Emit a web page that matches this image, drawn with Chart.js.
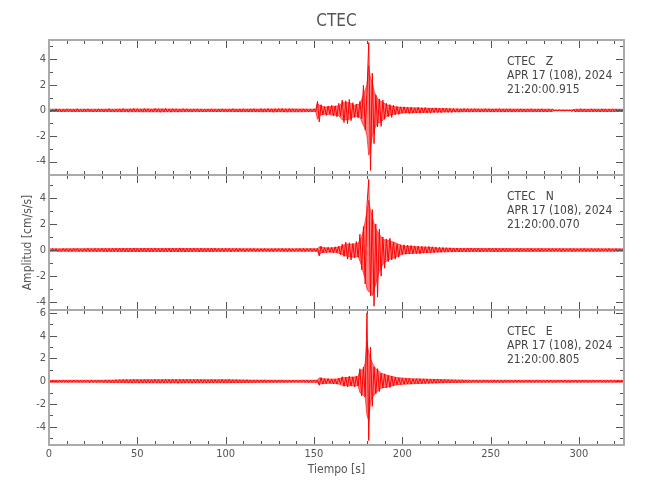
<!DOCTYPE html>
<html><head><meta charset="utf-8">
<script src="https://cdn.jsdelivr.net/npm/chart.js@4.4.1/dist/chart.umd.min.js"></script>
<style>
html,body{margin:0;padding:0;background:#fff;}
#wrap{position:relative;width:650px;height:500px;overflow:hidden;background:#fff;}
#wrap canvas{position:absolute;left:0;}
</style></head><body>
<div id="wrap">
<canvas id="cZ" width="650" height="185" style="top:0px"></canvas>
<canvas id="cN" width="650" height="155" style="top:165px"></canvas>
<canvas id="cE" width="650" height="200" style="top:300px"></canvas>
</div>
<script>
// ---------- data ----------
const station = 'CTEC';
const channels = ['Z', 'N', 'E'];
const dateLabel = 'APR 17 (108), 2024';
const startTimes = ['21:20:00.915', '21:20:00.070', '21:20:00.805'];
const sampleInterval = 1; // seconds between the samples below
const timeRange = [0, 325.5];
const xMajorStep = 50, xMinorStep = 10, yMajorStep = 2, yMinorStep = 1;
const yRangeZ = [-5.05, 5.5];
const yRangeN = [-4.59, 5.74];
const yRangeE = [-5.59, 6.25];

// trace peaks, one per second
const ampZ = [
0.10,-0.12,0.08,-0.10,0.12,-0.09,0.11,-0.13,0.09,-0.10,
0.12,-0.08,0.10,-0.11,0.09,-0.12,0.13,-0.10,0.08,-0.11,
0.11,-0.09,0.12,-0.10,0.10,-0.13,0.09,-0.11,0.12,-0.08,
0.10,-0.12,0.11,-0.09,0.13,-0.11,0.08,-0.12,0.10,-0.10,
0.12,-0.13,0.14,-0.10,0.11,-0.14,0.12,-0.11,0.15,-0.12,
0.13,-0.12,0.11,-0.14,0.14,-0.11,0.12,-0.13,0.10,-0.12,
0.14,-0.12,0.13,-0.15,0.12,-0.13,0.15,-0.12,0.11,-0.14,
0.13,-0.11,0.12,-0.14,0.10,-0.12,0.13,-0.10,0.12,-0.11,
0.10,-0.12,0.11,-0.09,0.12,-0.11,0.10,-0.12,0.09,-0.10,
0.11,-0.10,0.12,-0.11,0.09,-0.12,0.11,-0.10,0.12,-0.09,
0.10,-0.12,0.11,-0.10,0.13,-0.11,0.10,-0.12,0.11,-0.13,
0.12,-0.10,0.11,-0.13,0.12,-0.11,0.13,-0.12,0.10,-0.12,
0.13,-0.14,0.12,-0.11,0.14,-0.13,0.12,-0.15,0.13,-0.12,
0.14,-0.12,0.15,-0.13,0.12,-0.14,0.13,-0.11,0.12,-0.13,
0.11,-0.12,0.10,-0.11,0.12,-0.10,0.11,-0.12,0.10,-0.11,
0.12,-0.10,0.70,-0.90,0.45,-0.35,0.30,-0.40,0.35,-0.28,
0.40,-0.45,0.35,-0.50,0.55,-0.45,0.80,-0.95,0.75,-1.05,
0.85,-0.80,0.60,-0.55,0.50,-0.60,0.70,-0.65,1.95,-1.55,
1.40,5.30,-4.70,2.90,-2.60,1.20,-1.30,0.90,-1.25,0.80,
-0.70,0.55,-0.50,0.45,-0.55,0.40,-0.35,0.30,-0.32,0.28,
-0.22,0.28,-0.20,0.25,-0.26,0.24,-0.22,0.20,-0.20,0.25,
-0.22,0.20,-0.18,0.22,-0.20,0.18,-0.22,0.19,-0.17,0.20,
-0.18,0.16,-0.19,0.17,-0.15,0.18,-0.16,0.14,-0.17,0.15,
-0.14,0.13,-0.15,0.12,-0.13,0.14,-0.12,0.13,-0.14,0.12,
-0.12,0.13,-0.11,0.12,-0.13,0.11,-0.12,0.13,-0.11,0.12,
-0.13,0.11,-0.12,0.12,-0.10,0.13,-0.12,0.11,-0.13,0.12,
-0.11,0.12,-0.13,0.10,-0.12,0.11,-0.10,0.12,-0.11,0.10,
-0.12,0.11,-0.10,0.12,-0.11,0.10,-0.12,0.11,-0.10,0.12,
-0.11,0.10,-0.12,0.11,-0.10,0.09,-0.04,0.03,-0.03,0.04,
-0.03,0.03,-0.04,0.03,-0.03,0.04,-0.10,0.11,-0.12,0.10,
-0.11,0.12,-0.10,0.11,-0.12,0.10,-0.11,0.12,-0.10,0.11,
-0.12,0.10,-0.11,0.12,-0.10,0.11,-0.12,0.10,-0.11,0.12,
-0.10,0.11,-0.12,0.10,-0.11,0.10
];

const ampN = [
0.09,-0.10,0.11,-0.08,0.10,-0.11,0.08,-0.10,0.11,-0.09,
0.10,-0.12,0.09,-0.10,0.12,-0.09,0.11,-0.10,0.08,-0.11,
0.10,-0.09,0.12,-0.11,0.09,-0.10,0.11,-0.12,0.10,-0.09,
0.12,-0.10,0.11,-0.13,0.10,-0.12,0.13,-0.11,0.12,-0.10,
0.13,-0.12,0.14,-0.11,0.12,-0.14,0.13,-0.12,0.15,-0.13,
0.12,-0.14,0.13,-0.12,0.15,-0.13,0.12,-0.14,0.13,-0.11,
0.14,-0.12,0.13,-0.15,0.12,-0.13,0.14,-0.12,0.13,-0.14,
0.15,-0.13,0.12,-0.14,0.16,-0.12,0.13,-0.15,0.12,-0.13,
0.14,-0.12,0.13,-0.11,0.12,-0.14,0.13,-0.12,0.11,-0.13,
0.12,-0.13,0.14,-0.12,0.13,-0.11,0.12,-0.13,0.11,-0.12,
0.13,-0.11,0.12,-0.14,0.11,-0.12,0.13,-0.11,0.12,-0.10,
0.11,-0.12,0.10,-0.11,0.12,-0.10,0.11,-0.12,0.10,-0.11,
0.10,-0.11,0.12,-0.10,0.09,-0.11,0.10,-0.12,0.11,-0.09,
0.11,-0.10,0.12,-0.11,0.10,-0.12,0.11,-0.10,0.09,-0.11,
0.10,-0.09,0.11,-0.10,0.12,-0.11,0.10,-0.09,0.11,-0.10,
0.10,-0.11,0.12,-0.45,0.30,-0.22,0.18,-0.20,0.22,-0.18,
0.20,-0.22,0.25,-0.20,0.30,-0.35,0.45,-0.50,0.60,-0.70,
0.55,-0.75,0.50,-0.60,0.65,-0.55,1.20,-1.50,1.80,-2.60,
3.40,5.40,-3.50,3.10,-4.30,2.00,-3.60,1.60,-2.00,1.00,
-1.40,0.85,-0.90,0.90,-0.75,0.60,-0.70,0.45,-0.55,0.40,
-0.35,0.40,-0.32,0.38,-0.30,0.35,-0.28,0.32,-0.27,0.30,
-0.30,0.28,-0.24,0.26,-0.22,0.28,-0.23,0.25,-0.20,0.22,
-0.18,0.20,-0.17,0.19,-0.16,0.18,-0.15,0.17,-0.15,0.16,
-0.14,0.15,-0.14,0.13,-0.13,0.12,-0.12,0.14,-0.12,0.13,
-0.11,0.12,-0.12,0.13,-0.12,0.11,-0.11,0.10,-0.10,0.12,
-0.10,0.11,-0.11,0.12,-0.12,0.10,-0.10,0.11,-0.11,0.12,
-0.11,0.10,-0.10,0.09,-0.09,0.11,-0.11,0.10,-0.10,0.09,
-0.09,0.10,-0.10,0.11,-0.10,0.09,-0.09,0.11,-0.11,0.10,
-0.10,0.09,-0.09,0.10,-0.10,0.11,-0.09,0.09,-0.09,0.10,
-0.11,0.10,-0.10,0.09,-0.09,0.11,-0.10,0.10,-0.11,0.09,
-0.09,0.10,-0.10,0.11,-0.10,0.09,-0.11,0.10,-0.10,0.09,
-0.10,0.11,-0.10,0.09,-0.09,0.10,-0.10,0.11,-0.10,0.09,
-0.11,0.10,-0.10,0.09,-0.09,0.10
];

const ampE = [
0.08,-0.09,0.10,-0.08,0.09,-0.10,0.08,-0.09,0.10,-0.08,
0.09,-0.10,0.08,-0.09,0.11,-0.08,0.10,-0.09,0.08,-0.10,
0.10,-0.08,0.09,-0.11,0.10,-0.09,0.08,-0.10,0.11,-0.09,
0.10,-0.11,0.12,-0.10,0.11,-0.12,0.10,-0.11,0.13,-0.12,
0.14,-0.12,0.15,-0.13,0.14,-0.15,0.13,-0.14,0.16,-0.13,
0.15,-0.14,0.13,-0.15,0.16,-0.13,0.14,-0.15,0.13,-0.14,
0.16,-0.14,0.15,-0.16,0.14,-0.15,0.17,-0.14,0.15,-0.16,
0.17,-0.15,0.16,-0.18,0.15,-0.16,0.17,-0.15,0.16,-0.14,
0.15,-0.16,0.14,-0.15,0.16,-0.14,0.15,-0.13,0.14,-0.15,
0.13,-0.14,0.15,-0.13,0.14,-0.12,0.13,-0.14,0.15,-0.13,
0.14,-0.15,0.16,-0.14,0.13,-0.15,0.14,-0.13,0.12,-0.13,
0.12,-0.11,0.13,-0.12,0.11,-0.12,0.10,-0.11,0.12,-0.10,
0.11,-0.10,0.12,-0.11,0.10,-0.09,0.11,-0.10,0.09,-0.10,
0.10,-0.09,0.11,-0.10,0.09,-0.10,0.08,-0.09,0.10,-0.09,
0.09,-0.10,0.08,-0.09,0.10,-0.08,0.09,-0.10,0.08,-0.09,
0.10,-0.09,0.12,-0.35,0.32,-0.25,0.22,-0.20,0.24,-0.18,
0.20,-0.22,0.18,-0.25,0.28,-0.22,0.40,-0.45,0.35,-0.50,
0.44,-0.40,0.38,-0.50,0.45,-0.42,1.10,-1.30,1.25,-1.40,
6.00,-5.20,3.00,-2.20,1.25,-1.10,1.10,-0.90,0.70,-0.60,
0.65,-0.55,0.50,-0.55,0.45,-0.40,0.35,-0.30,0.30,-0.28,
0.26,-0.24,0.25,-0.22,0.24,-0.25,0.22,-0.20,0.23,-0.21,
0.22,-0.20,0.21,-0.19,0.20,-0.18,0.19,-0.17,0.18,-0.16,
0.17,-0.15,0.16,-0.14,0.15,-0.13,0.14,-0.12,0.13,-0.12,
0.12,-0.11,0.10,-0.11,0.12,-0.10,0.11,-0.10,0.09,-0.11,
0.10,-0.09,0.11,-0.10,0.09,-0.10,0.11,-0.09,0.10,-0.11,
0.09,-0.10,0.11,-0.09,0.10,-0.10,0.09,-0.11,0.10,-0.09,
0.10,-0.09,0.08,-0.10,0.09,-0.08,0.10,-0.09,0.08,-0.09,
0.09,-0.08,0.10,-0.09,0.08,-0.09,0.10,-0.08,0.09,-0.10,
0.08,-0.09,0.10,-0.08,0.09,-0.10,0.08,-0.09,0.10,-0.08,
0.09,-0.08,0.10,-0.09,0.08,-0.10,0.09,-0.08,0.10,-0.09,
0.08,-0.09,0.10,-0.08,0.09,-0.10,0.08,-0.09,0.10,-0.08,
0.09,-0.08,0.10,-0.09,0.08,-0.10,0.09,-0.08,0.10,-0.09,
0.08,-0.09,0.10,-0.08,0.09,-0.08
];

// dense-body envelope of each trace (time, upper, lower)
const envTimeZ = [0,30,60,90,120,140,151,152,153,156,160,164,166,170,173,176,178,179,180,181,182,183,184,186,188,191,195,200,210,220,230,260,285,286,297,298,325.5];
const envHiZ = [0.09,0.09,0.11,0.09,0.10,0.11,0.09,0.55,0.40,0.25,0.30,0.35,0.60,0.60,0.40,0.50,1.20,1.60,2.00,3.50,2.50,2.20,1.50,0.90,0.70,0.45,0.30,0.22,0.18,0.15,0.11,0.10,0.09,0.03,0.03,0.09,0.09];
const envLoZ = [-0.09,-0.09,-0.11,-0.09,-0.10,-0.11,-0.09,-0.70,-0.40,-0.30,-0.35,-0.40,-0.75,-0.70,-0.45,-0.50,-1.20,-1.40,-2.00,-3.50,-3.00,-2.00,-1.50,-1.00,-0.90,-0.45,-0.30,-0.20,-0.16,-0.13,-0.10,-0.10,-0.09,-0.03,-0.03,-0.09,-0.09];

const envTimeN = [0,40,80,120,152,153,154,158,162,165,168,172,175,177,178,179,180,181,182,183,184,185,187,189,192,196,200,210,220,230,325.5];
const envHiN = [0.09,0.11,0.11,0.09,0.10,0.25,0.20,0.15,0.18,0.25,0.45,0.45,0.50,1.00,1.50,2.20,3.00,3.80,3.00,2.60,2.00,1.60,1.20,0.80,0.75,0.55,0.32,0.24,0.16,0.12,0.09];
const envLoN = [-0.09,-0.11,-0.11,-0.09,-0.10,-0.40,-0.20,-0.16,-0.18,-0.28,-0.45,-0.55,-0.50,-1.20,-1.80,-2.20,-3.00,-3.20,-3.20,-3.50,-3.00,-2.60,-1.60,-1.10,-0.75,-0.55,-0.30,-0.22,-0.15,-0.12,-0.09];

const envTimeE = [0,30,45,70,100,115,140,152,153,154,158,163,166,170,175,176,178,179,180,181,182,183,185,188,192,197,205,215,225,240,325.5];
const envHiE = [0.08,0.09,0.13,0.14,0.13,0.10,0.08,0.10,0.30,0.25,0.18,0.20,0.30,0.35,0.40,0.90,1.10,1.60,3.50,2.50,2.00,1.60,1.10,0.70,0.50,0.32,0.22,0.18,0.13,0.09,0.08];
const envLoE = [-0.08,-0.09,-0.13,-0.14,-0.13,-0.10,-0.08,-0.10,-0.30,-0.22,-0.18,-0.20,-0.35,-0.40,-0.40,-1.00,-1.20,-1.40,-3.00,-3.50,-1.80,-1.40,-1.00,-0.60,-0.50,-0.30,-0.22,-0.17,-0.12,-0.09,-0.08];

// ---------- font pick ----------
function pickFont(list) {
  const c = document.createElement('canvas').getContext('2d');
  const test = 'APR 17 (108), 2024 Tiempo Amplitud';
  c.font = '16px monospace';
  const base = c.measureText(test).width;
  for (const f of list) {
    c.font = '16px "' + f + '", monospace';
    if (Math.abs(c.measureText(test).width - base) > 0.5) return f;
  }
  return 'Liberation Sans';
}
const FONT = pickFont(['Liberation Sans Narrow', 'DejaVu Sans Condensed', 'Arial Narrow', 'Roboto Condensed']);

const TICK_COLOR = '#555';
const FRAME_COLOR = '#aaa';

const frameTicks = {
  id: 'frameTicks',
  afterDatasetsDraw(chart, args, opts) {
    const {ctx, chartArea: a, scales: {x, y}} = chart;
    ctx.save();
    ctx.strokeStyle = TICK_COLOR;
    ctx.lineWidth = 1;
    ctx.beginPath();
    x.ticks.forEach(t => {
      const px = Math.round(x.getPixelForValue(t.value)) + 0.5;
      const L = Math.abs(t.value % xMajorStep) < 1e-6 ? 8 : 4;
      ctx.moveTo(px, a.top); ctx.lineTo(px, a.top + L);
      ctx.moveTo(px, a.bottom); ctx.lineTo(px, a.bottom - L);
    });
    y.ticks.forEach(t => {
      const py = Math.round(y.getPixelForValue(t.value)) + 0.5;
      const L = Math.abs(t.value % yMajorStep) < 1e-6 ? 8 : 4;
      ctx.moveTo(a.left, py); ctx.lineTo(a.left + L, py);
      ctx.moveTo(a.right, py); ctx.lineTo(a.right - L, py);
    });
    ctx.stroke();
    ctx.strokeStyle = FRAME_COLOR;
    ctx.lineWidth = 2;
    ctx.strokeRect(a.left, a.top, a.right - a.left, a.bottom - a.top);
    // station annotation
    ctx.fillStyle = '#444';
    ctx.font = '12px "' + FONT + '"';
    ctx.textAlign = 'left';
    ctx.textBaseline = 'middle';
    const tx = a.right - 117;
    ctx.fillText(station + '   ' + opts.channel, tx, a.top + 21.5);
    ctx.fillText(dateLabel, tx, a.top + 35.5);
    ctx.fillText(opts.time, tx, a.top + 49.5);
    ctx.restore();
  }
};

function makeChart(id, amps, envT, envHi, envLo, yRange, idx, cfg) {
  const trace = amps.map((v, i) => ({x: i * sampleInterval, y: v}));
  const hi = envT.map((t, i) => ({x: t, y: envHi[i]}));
  const lo = envT.map((t, i) => ({x: t, y: envLo[i]}));
  return new Chart(document.getElementById(id), {
    type: 'line',
    data: {datasets: [
      {data: trace, borderColor: '#ff0000', borderWidth: 1, pointRadius: 0, tension: 0, fill: false},
      {data: hi, borderColor: 'rgba(255,0,0,0.6)', borderWidth: 1, pointRadius: 0, tension: 0,
       fill: '+1', backgroundColor: 'rgba(255,0,0,0.5)'},
      {data: lo, borderColor: 'rgba(255,0,0,0.6)', borderWidth: 1, pointRadius: 0, tension: 0, fill: false}
    ]},
    plugins: [frameTicks],
    options: {
      responsive: false, animation: false, devicePixelRatio: 1, events: [],
      layout: {padding: cfg.padding},
      plugins: {
        legend: {display: false}, tooltip: {enabled: false},
        title: cfg.title || {display: false},
        frameTicks: {channel: channels[idx], time: startTimes[idx]}
      },
      scales: {
        x: {
          type: 'linear', position: 'bottom', min: timeRange[0], max: timeRange[1],
          grid: {display: false, drawTicks: false}, border: {display: false},
          ticks: {
            display: !!cfg.showX, stepSize: xMinorStep, includeBounds: false, autoSkip: false, maxRotation: 0,
            padding: 3, color: TICK_COLOR, font: {family: FONT, size: 11},
            callback: v => (Math.abs(v % xMajorStep) < 1e-6 ? String(v) : '')
          },
          title: cfg.xTitle || {display: false},
          afterFit: s => { s.height = cfg.xHeight || 0; }
        },
        y: {
          type: 'linear', position: 'left', min: yRange[0], max: yRange[1],
          grid: {display: false, drawTicks: false}, border: {display: false},
          ticks: {
            stepSize: yMinorStep, includeBounds: false, autoSkip: false, padding: 3,
            color: TICK_COLOR, font: {family: FONT, size: 11},
            callback: v => (Math.abs(v % yMajorStep) < 1e-6 ? String(v) : '')
          },
          title: cfg.yTitle || {display: false},
          afterFit: s => { s.width = 49; }
        }
      }
    }
  });
}

makeChart('cZ', ampZ, envTimeZ, envHiZ, envLoZ, yRangeZ, 0, {
  padding: {top: 0, bottom: 10, left: 0, right: 26},
  title: {display: true, text: station, fullSize: false, color: '#555',
          font: {family: FONT, size: 17, weight: 'normal'}, padding: {top: 11.8, bottom: 7.8}}
});
makeChart('cN', ampN, envTimeN, envHiN, envLoN, yRangeN, 1, {
  padding: {top: 10, bottom: 10, left: 0, right: 26},
  yTitle: {display: true, text: 'Amplitud [cm/s/s]', color: '#555',
           font: {family: FONT, size: 12}, padding: {top: 21, bottom: 0}}
});
makeChart('cE', ampE, envTimeE, envHiE, envLoE, yRangeE, 2, {
  padding: {top: 10, bottom: 0, left: 0, right: 26},
  showX: true, xHeight: 55,
  xTitle: {display: true, text: 'Tiempo [s]', color: '#555',
           font: {family: FONT, size: 12}, padding: {top: 0, bottom: 23}}
});
</script>
</body></html>
